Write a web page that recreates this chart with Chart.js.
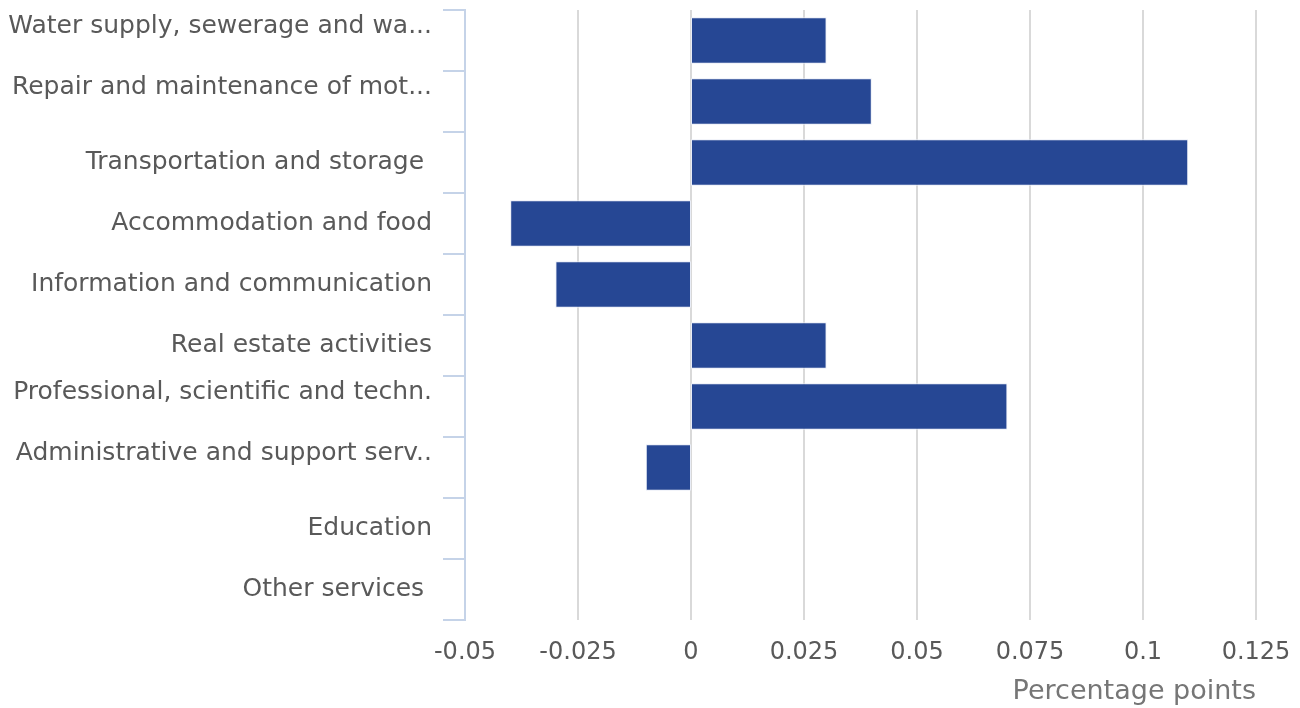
<!DOCTYPE html>
<html>
<head>
<meta charset="utf-8">
<script src="https://cdn.jsdelivr.net/npm/chart.js@4/dist/chart.umd.min.js"></script>
<style>
  html, body { margin: 0; padding: 0; background: #ffffff; }
  #wrap { width: 1300px; height: 708px; }
</style>
</head>
<body>
<div id="wrap"><canvas id="c" width="1300" height="708"></canvas></div>
<script>
// Categories (truncated labels wrap onto a second, empty line as in the source)
const categories = [
  ["Water supply, sewerage and wa...", ""],
  ["Repair and maintenance of mot...", ""],
  "Transportation and storage ",
  "Accommodation and food",
  "Information and communication",
  "Real estate activities",
  ["Professional, scientific and techn.", ""],
  ["Administrative and support serv..", ""],
  "Education",
  "Other services "
];
// Contribution, percentage points
const contributions = [0.03, 0.04, 0.11, -0.04, -0.03, 0.03, 0.07, -0.01, 0, 0];
const xMin = -0.05;
const xMax = 0.125;
const xStep = 0.025;
const xTitle = "Percentage points";

const FONT = "'DejaVu Sans', sans-serif";

new Chart(document.getElementById('c'), {
  type: 'bar',
  data: {
    labels: categories,
    datasets: [{
      data: contributions,
      backgroundColor: '#264794',
      borderColor: '#e8ecf6',
      borderWidth: 1,
      borderSkipped: false,
      categoryPercentage: 0.76,
      barPercentage: 1.0
    }]
  },
  options: {
    indexAxis: 'y',
    responsive: false,
    animation: false,
    devicePixelRatio: 1,
    layout: { padding: { top: 10, right: 44, left: 0, bottom: 0 } },
    plugins: { legend: { display: false }, tooltip: { enabled: false } },
    scales: {
      x: {
        type: 'linear',
        min: xMin,
        max: xMax,
        afterFit: s => { s.height = 88; s.paddingLeft = 0; s.paddingRight = 0; },
        ticks: {
          stepSize: xStep,
          autoSkip: false,
          maxRotation: 0,
          color: '#595959',
          padding: 18,
          font: { family: FONT, size: 24 },
          callback: v => String(Math.round(v * 1000) / 1000)
        },
        grid: {
          drawTicks: false,
          color: c => (c.tick && c.tick.value === 0) ? '#808080' : (c.tick && c.tick.value === xMin ? 'rgba(0,0,0,0)' : '#d9d9d9'),
          lineWidth: c => (c.tick && c.tick.value === 0) ? 3 : 2
        },
        border: { display: false },
        title: {
          display: true,
          text: xTitle,
          align: 'end',
          color: '#767676',
          font: { family: FONT, size: 27 },
          padding: { top: 0, bottom: 0 }
        }
      },
      y: {
        afterFit: s => { s.width = 465; s.paddingTop = 0; s.paddingBottom = 0; },
        ticks: {
          autoSkip: false,
          color: '#595959',
          padding: 11,
          font: { family: FONT, size: 25, lineHeight: 1.1 }
        },
        grid: {
          offset: true,
          drawOnChartArea: false,
          drawTicks: true,
          tickLength: 22,
          color: '#c5d3e8',
          lineWidth: 2
        },
        border: { display: true, color: '#c5d3e8', width: 2 }
      }
    }
  }
});
</script>
</body>
</html>
